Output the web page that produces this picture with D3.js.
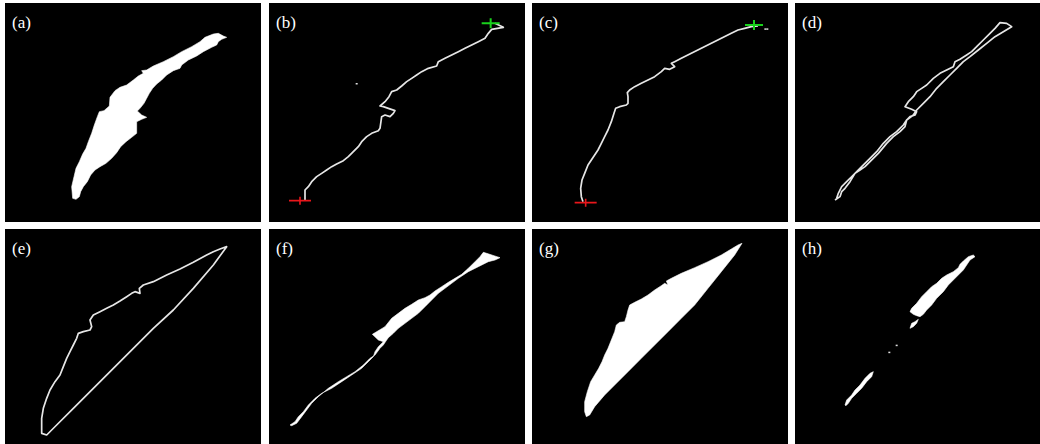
<!DOCTYPE html>
<html>
<head>
<meta charset="utf-8">
<script src="https://cdn.jsdelivr.net/npm/d3@7"></script>
<style>
  html, body { margin: 0; padding: 0; background: #fff; }
  svg { display: block; }
</style>
</head>
<body>
<div id="chart"></div>
<script>
// panel labels
const labels = ['(a)', '(b)', '(c)', '(d)', '(e)', '(f)', '(g)', '(h)'];

// traced outlines, in crop units (3 units = 1 px, origin = crop corner of each panel)
const regionA = [[218,595],[215,560],[222,530],[228,505],[238,485],[248,462],[258,445],[265,425],[275,400],[283,375],[292,350],[298,335],[312,332],[328,318],[330,292],[345,272],[360,262],[380,255],[400,240],[415,228],[430,220],[425,212],[440,210],[460,198],[490,185],[520,170],[545,155],[575,140],[600,125],[615,112],[640,102],[655,100],[670,108],[680,112],[665,118],[655,125],[650,135],[635,142],[610,155],[590,168],[565,180],[545,195],[540,205],[520,212],[500,225],[485,240],[470,252],[458,265],[448,280],[440,295],[432,310],[420,325],[412,333],[425,345],[440,352],[425,358],[410,365],[410,400],[395,412],[378,425],[362,440],[350,458],[335,475],[318,490],[300,500],[285,510],[272,525],[262,545],[250,560],[242,575],[238,590],[228,598]];

const pathB = [[120,600],[120,570],[130,560],[140,545],[155,530],[170,520],[185,510],[200,500],[215,492],[235,482],[250,470],[265,455],[280,440],[290,425],[305,410],[320,400],[340,392],[345,385],[350,350],[360,345],[375,350],[385,340],[390,332],[370,325],[355,320],[345,318],[360,305],[372,290],[380,275],[395,270],[410,258],[425,245],[440,235],[455,225],[470,215],[490,205],[515,198],[520,185],[540,175],[560,165],[580,155],[600,145],[620,135],[640,125],[660,115],[670,100],[680,88],[715,82],[690,70]];
const dotB = [[275,252]];
const startB = [105, 602];
const endB = [677, 70];

const pathC = [[165,605],[160,590],[158,565],[162,540],[170,520],[180,495],[190,480],[200,465],[210,450],[220,430],[230,410],[240,390],[250,365],[258,340],[263,325],[275,320],[295,315],[300,310],[300,290],[298,278],[305,270],[320,260],[340,250],[360,240],[380,230],[400,215],[410,205],[425,208],[440,200],[430,190],[440,185],[460,175],[490,160],[520,145],[550,130],[580,115],[610,100],[630,90],[650,85],[670,80],[690,78]];
const dotC = [[712,88],[718,88]];
const startC = [173, 608];
const endC = [678, 75];

const pathD = [[135,600],[150,590],[155,575],[165,565],[180,545],[195,520],[210,510],[225,500],[240,485],[265,460],[290,430],[310,410],[330,395],[345,380],[350,360],[360,350],[375,345],[380,335],[365,328],[345,320],[355,305],[370,290],[380,275],[395,265],[410,255],[430,235],[450,220],[470,210],[490,200],[495,185],[510,178],[530,165],[545,155],[560,140],[580,120],[600,100],[615,85],[630,68],[650,70],[665,80],[640,95],[615,110],[590,130],[565,150],[540,170],[520,185],[500,205],[480,225],[460,245],[440,265],[420,290],[400,310],[380,330],[370,345],[350,360],[340,375],[320,395],[300,410],[280,430],[260,455],[240,475],[215,500],[190,525],[170,545],[155,560],[145,580],[140,595]];

const hullE = [[140,630],[125,625],[125,580],[130,550],[140,520],[150,495],[165,470],[180,450],[190,425],[200,400],[210,380],[220,360],[230,340],[235,325],[250,320],[270,315],[275,305],[270,285],[280,270],[300,260],[320,250],[340,240],[360,228],[380,215],[395,205],[405,200],[420,205],[418,190],[430,180],[460,170],[500,150],[540,132],[580,112],[620,90],[640,80],[660,72],[680,65],[640,120],[580,190],[520,255],[460,310],[400,370],[340,430],[280,490],[220,550],[170,600]];

const regionF = [[75,600],[90,590],[100,575],[115,560],[130,540],[150,520],[170,505],[200,490],[230,470],[260,450],[290,430],[310,410],[325,395],[330,380],[340,365],[355,350],[340,345],[322,328],[360,305],[380,280],[400,265],[420,250],[440,238],[460,225],[480,218],[495,210],[510,198],[530,185],[550,172],[570,160],[590,148],[610,130],[630,110],[645,95],[655,82],[665,85],[705,98],[690,105],[670,110],[640,125],[610,140],[580,160],[560,175],[540,190],[520,205],[500,225],[480,245],[460,265],[440,280],[420,295],[400,310],[385,325],[370,338],[365,345],[355,360],[345,370],[330,390],[315,400],[295,420],[270,440],[245,455],[220,470],[190,490],[160,515],[140,535],[125,555],[110,575],[95,595],[80,602]];

const hullG = [[175,575],[170,560],[170,530],[178,500],[188,470],[200,450],[212,430],[222,410],[230,390],[240,370],[250,345],[260,320],[265,300],[275,292],[290,290],[295,275],[300,255],[305,240],[320,232],[340,222],[360,210],[380,195],[400,182],[410,175],[420,180],[415,168],[430,160],[460,145],[500,128],[540,110],[580,90],[610,72],[630,60],[642,55],[620,90],[580,140],[540,190],[500,240],[460,280],[420,320],[380,360],[340,400],[300,440],[260,480],[230,510],[200,545],[185,570]];

const pieceH1 = [[360,260],[365,250],[380,235],[395,215],[410,200],[425,185],[440,175],[455,160],[470,150],[490,140],[505,128],[510,118],[520,108],[535,95],[550,90],[555,95],[540,105],[530,120],[520,135],[505,150],[490,165],[475,180],[460,200],[440,220],[425,240],[410,255],[400,268],[390,275],[380,272],[370,268]];
const pieceH2 = [[365,295],[375,290],[385,283],[380,295],[370,305],[360,310]];
const pieceH3 = [[165,540],[170,525],[185,510],[195,495],[210,480],[225,460],[240,445],[250,440],[245,455],[230,470],[215,490],[200,505],[185,520],[175,535],[168,542]];
const dotsH = [[320,362],[298,383]];

// layout: crop corner + black frame (px)
const panels = [
  { ox: 0,   oy: 0,   rect: [5, 3, 256, 219],   fills: [regionA] },
  { ox: 265, oy: 0,   rect: [269, 3, 256, 219], lines: [pathB], dots: dotB, start: startB, end: endB },
  { ox: 528, oy: 0,   rect: [532, 3, 256, 219], lines: [pathC], dots: dotC, start: startC, end: endC },
  { ox: 790, oy: 0,   rect: [795, 3, 245, 219], lines: [pathD] },
  { ox: 0,   oy: 225, rect: [5, 229, 256, 215], lines: [hullE], closed: true },
  { ox: 265, oy: 225, rect: [269, 229, 256, 215], fills: [regionF] },
  { ox: 528, oy: 225, rect: [532, 229, 256, 215], fills: [hullG] },
  { ox: 790, oy: 225, rect: [795, 229, 245, 215], fills: [pieceH1, pieceH2, pieceH3], dots: dotsH }
];

const svg = d3.select('#chart').append('svg')
  .attr('width', 1040)
  .attr('height', 444);

panels.forEach((p, i) => {
  const x = d3.scaleLinear().domain([0, 780]).range([p.ox, p.ox + 260]);
  const y = d3.scaleLinear().domain([0, 666]).range([p.oy, p.oy + 222]);
  const g = svg.append('g');

  g.append('rect')
    .attr('x', p.rect[0]).attr('y', p.rect[1])
    .attr('width', p.rect[2]).attr('height', p.rect[3])
    .attr('fill', '#000');

  const line = d3.line().x(d => x(d[0])).y(d => y(d[1]));

  (p.fills || []).forEach(pts => {
    g.append('path')
      .attr('d', line(pts) + 'Z')
      .attr('fill', '#fff')
      .attr('stroke', '#fff')
      .attr('stroke-width', 0.6);
  });

  (p.lines || []).forEach(pts => {
    g.append('path')
      .attr('d', line(pts) + (p.closed ? 'Z' : ''))
      .attr('fill', 'none')
      .attr('stroke', '#e6e6e6')
      .attr('stroke-width', 1.7)
      .attr('stroke-linejoin', 'round');
  });

  (p.dots || []).forEach(d => {
    g.append('rect')
      .attr('x', x(d[0]) - 1).attr('y', y(d[1]) - 1)
      .attr('width', 2).attr('height', 1.5)
      .attr('fill', '#ddd');
  });

  // start / end markers
  if (p.start) {
    const s = p.start, e = p.end;
    g.append('path')
      .attr('d', `M${x(s[0]) - 11},${y(s[1])}H${x(s[0]) + 11}M${x(s[0])},${y(s[1]) - 4}V${y(s[1]) + 4}`)
      .attr('stroke', '#e8161b').attr('stroke-width', 1.6).attr('fill', 'none');
    g.append('path')
      .attr('d', `M${x(e[0]) - 9},${y(e[1])}H${x(e[0]) + 9}M${x(e[0])},${y(e[1]) - 5}V${y(e[1]) + 5}`)
      .attr('stroke', '#19d11c').attr('stroke-width', 2).attr('fill', 'none');
  }

  g.append('text')
    .attr('x', p.rect[0] + 7)
    .attr('y', p.rect[1] + 25)
    .attr('fill', '#fff')
    .attr('font-family', '"Liberation Serif", "Times New Roman", serif')
    .attr('font-size', 17)
    .text(labels[i]);
});
</script>
</body>
</html>
